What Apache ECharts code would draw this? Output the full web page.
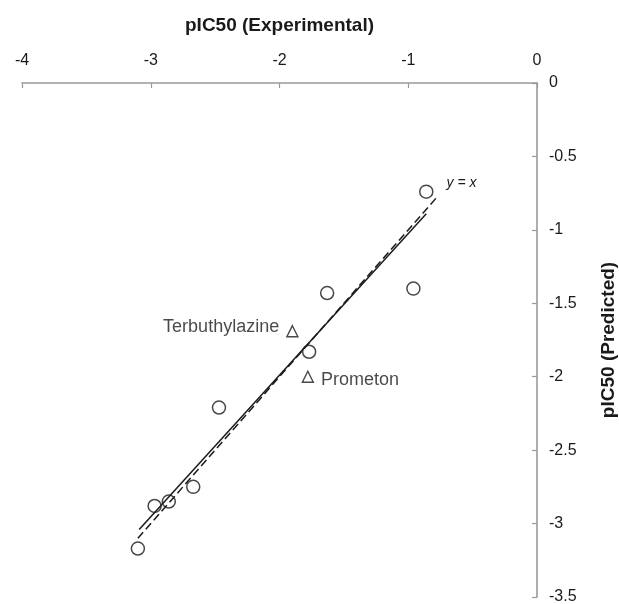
<!DOCTYPE html>
<html>
<head>
<meta charset="utf-8">
<script src="https://cdn.jsdelivr.net/npm/echarts@6/dist/echarts.min.js"></script>
<style>
html,body{margin:0;padding:0;background:#fff;}
#chart{width:619px;height:604px;}
</style>
</head>
<body>
<div id="chart"></div>
<script>
// Data
const circleX = [-3.10, -2.97, -2.86, -2.67, -2.47, -1.77, -1.63, -0.96, -0.86];
const circleY = [-3.17, -2.88, -2.85, -2.75, -2.21, -1.83, -1.43, -1.40, -0.74];
const triNames = ['Terbuthylazine', 'Prometon'];
const triX = [-1.90, -1.78];
const triY = [-1.69, -2.00];
const identityX = [-3.10, -0.78];   // y = x line
const fitX = [-3.09, -0.86];
const fitY = [-3.04, -0.89];
const xTicks = [-4, -3, -2, -1, 0];
const yTicks = [0, -0.5, -1, -1.5, -2, -2.5, -3, -3.5];

const font = 'Liberation Sans, Arial, sans-serif';
const ink = '#1a1a1a';
const axisGray = '#9a9a9a';

const chart = echarts.init(document.getElementById('chart'));
chart.setOption({
  animation: false,
  backgroundColor: '#fff',
  textStyle: { fontFamily: font },
  grid: { left: 22, right: 82, top: 83, bottom: 7, containLabel: false, outerBoundsMode: 'none' },
  xAxis: {
    type: 'value', position: 'top',
    min: xTicks[0], max: xTicks[xTicks.length - 1], interval: 1,
    name: 'pIC50 (Experimental)', nameLocation: 'middle', nameGap: 48,
    nameTextStyle: { fontFamily: font, fontWeight: 'bold', fontSize: 19, color: ink },
    axisLine: { show: true, onZero: false, lineStyle: { color: axisGray, width: 1.6 } },
    axisTick: { show: true, inside: true, length: 5, lineStyle: { color: axisGray, width: 1.2 } },
    axisLabel: { fontFamily: font, fontSize: 16, color: ink, margin: 14 },
    splitLine: { show: false }
  },
  yAxis: {
    type: 'value', position: 'right',
    min: yTicks[yTicks.length - 1], max: yTicks[0], interval: 0.5,
    name: 'pIC50 (Predicted)', nameLocation: 'middle', nameGap: 62, nameRotate: 90,
    nameTextStyle: { fontFamily: font, fontWeight: 'bold', fontSize: 19, color: ink },
    axisLine: { show: true, onZero: false, lineStyle: { color: axisGray, width: 1.6 } },
    axisTick: { show: true, inside: true, length: 5, lineStyle: { color: axisGray, width: 1.2 } },
    axisLabel: { fontFamily: font, fontSize: 16, color: ink, margin: 12 },
    splitLine: { show: false }
  },
  series: [
    {
      type: 'line', name: 'y = x',
      data: identityX.map(v => [v, v]),
      symbol: 'none', silent: true,
      lineStyle: { color: ink, width: 1.5, type: [8, 4] },
      endLabel: {
        show: true, formatter: 'y = x', fontFamily: font, fontStyle: 'italic',
        fontSize: 14, color: ink, offset: [2, -14]
      },
      z: 2
    },
    {
      type: 'line', name: 'fit',
      data: fitX.map((v, i) => [v, fitY[i]]),
      symbol: 'none', silent: true,
      lineStyle: { color: ink, width: 1.5 },
      z: 2
    },
    {
      type: 'scatter', name: 'training',
      data: circleX.map((v, i) => [v, circleY[i]]),
      symbol: 'circle', symbolSize: 13,
      itemStyle: { color: 'rgba(255,255,255,0)', borderColor: ink, borderWidth: 1.5 },
      z: 3
    },
    {
      type: 'scatter', name: 'test',
      data: triX.map((v, i) => ({
        value: [v, triY[i]], name: triNames[i],
        label: i === 0
          ? { show: true, position: 'left', distance: 7, offset: [0, -4] }
          : { show: true, position: 'right', distance: 7, offset: [0, 3] }
      })),
      symbol: 'triangle', symbolSize: 11,
      itemStyle: { color: 'rgba(255,255,255,0)', borderColor: ink, borderWidth: 1.4 },
      label: { formatter: '{b}', fontFamily: font, fontSize: 18, color: ink },
      z: 3
    }
  ]
});
</script>
</body>
</html>
